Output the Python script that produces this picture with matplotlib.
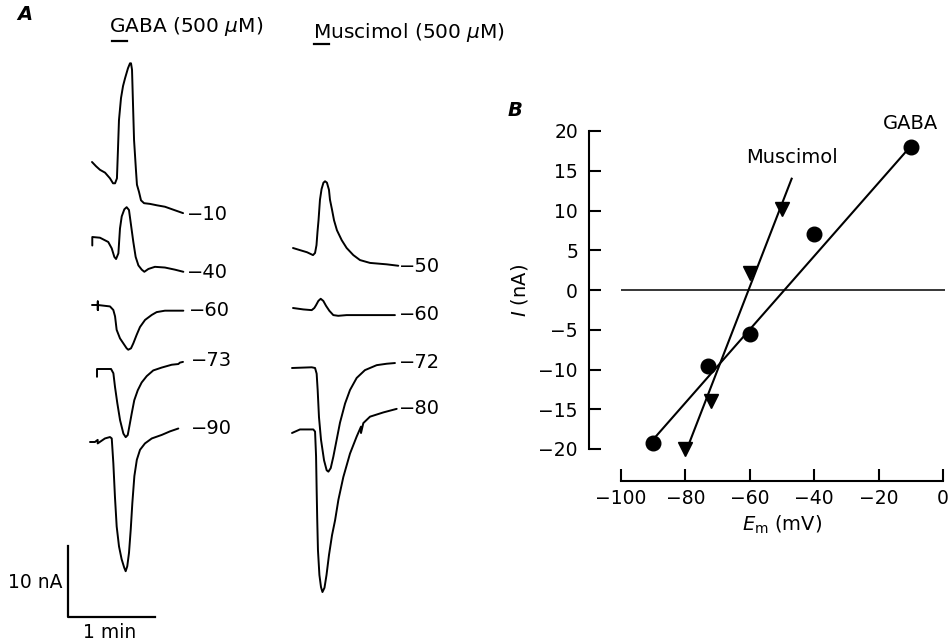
import matplotlib
matplotlib.use('Agg')
import matplotlib.pyplot as plt

plt.rcParams['font.family'] = ['DejaVu Sans']
plt.rcParams['mathtext.fontset'] = 'dejavusans'

# ---- panel A: membrane current sweeps
# t in s from the start of each sweep, I in nA relative to the first point
gaba_holding = ['\u221210', '\u221240', '\u221260', '\u221273', '\u221290']
gaba_t = [
    [0, 2.8, 5.5, 9.0, 12.4, 14.5, 15.9, 17.2, 17.9, 18.6, 20.0, 21.4, 22.8, 24.8, 26.2, 26.9,
     27.6, 28.3, 29.0, 30.3, 31.0, 32.4, 33.8, 35.9, 40.0, 44.8, 50.3, 57.2, 62.8],
    [0.2, 0.2, 5.5, 11.2, 13.6, 15.4, 16.6, 18.2, 19.3, 20.5, 22.3, 23.9, 25.5, 26.9, 28.5,
     30.1, 32.0, 34.3, 36.1, 38.9, 43.4, 50.3, 57.2, 63.0],
    [0, 4.0, 4.0, 4.0, 4.0, 12.4, 14.7, 15.9, 17.0, 19.3, 21.6, 23.9, 25.0, 26.9, 28.5, 30.8,
     33.1, 36.6, 41.2, 44.6, 50.3, 63.0],
    [0, 0, 9.7, 11.3, 12.4, 14.0, 15.9, 18.2, 19.8, 21.2, 22.3, 24.0, 25.7, 28.1, 30.8, 34.3,
     38.8, 44.6, 51.5, 56.1, 57.2, 59.3],
    [0, 3.4, 5.3, 5.3, 10.3, 13.8, 15.0, 16.1, 17.2, 18.4, 20.0, 21.8, 23.6, 24.6, 25.7, 26.9,
     28.1, 29.2, 30.6, 32.3, 34.5, 37.9, 42.6, 49.5, 55.2, 60.9],
]
gaba_i = [
    [0, -0.6, -1.1, -1.5, -2.3, -3.0, -3.0, -2.3, 1.7, 5.9, 9.0, 10.7, 11.8, 13.2, 13.9, 13.9,
     13.0, 8.0, 3.1, -1.1, -3.2, -4.2, -5.4, -5.8, -5.9, -6.1, -6.3, -6.8, -7.2],
    [-1.2, 0, -0.1, -0.7, -1.6, -2.8, -3.1, -2.3, 1.2, 2.9, 3.9, 4.2, 3.8, 1.7, -0.7,
     -2.8, -4.0, -4.6, -4.9, -4.5, -4.2, -4.3, -4.6, -4.9],
    [0, 0, 0.5, -0.7, 0, -0.2, -0.7, -1.6, -3.5, -4.7, -5.4, -6.1, -6.3, -6.1, -5.4, -4.2,
     -3.1, -2.1, -1.4, -1.0, -0.8, -0.8],
    [-1.1, 0, 0, -0.6, -2.5, -4.8, -7.2, -9.1, -9.6, -9.3, -8.1, -6.2, -4.4, -3.0, -1.9, -1.0,
     -0.2, 0.2, 0.6, 0.7, 0.9, 1.0],
    [0, 0, 0.3, -0.2, 0.5, 0.7, 0.5, -3.0, -7.7, -11.9, -14.7, -16.5, -17.7, -18.2, -17.5, -15.6,
     -12.3, -8.6, -4.8, -2.5, -1.1, -0.2, 0.5, 1.0, 1.5, 1.9],
]

musc_holding = ['\u221250', '\u221260', '\u221272', '\u221280']
musc_t = [
    [0, 4.8, 9.7, 13.8, 15.2, 16.2, 16.9, 17.6, 18.6, 19.7, 21.0, 22.1, 23.4, 24.8, 25.5, 26.9,
     28.3, 30.3, 33.6, 37.0, 41.6, 46.2, 53.1, 64.6, 72.6],
    [0, 7.1, 12.9, 14.7, 15.9, 17.5, 19.1, 20.9, 22.8, 25.1, 27.8, 31.2, 37.0, 50.8, 70.3],
    [0, 13.6, 15.9, 17.0, 17.7, 18.6, 20.0, 22.1, 23.9, 25.1, 26.7, 28.5, 30.8, 33.1, 36.6, 40.0,
     44.6, 50.3, 58.4, 65.3, 71.0],
    [0, 5.5, 14.7, 15.9, 16.6, 17.0, 17.4, 17.9, 18.9, 20.0, 21.0, 22.4, 23.8, 25.5, 27.6, 29.7,
     32.0, 35.4, 40.0, 44.6, 47.6, 47.6, 49.2, 53.8, 63.0, 72.2],
]
musc_i = [
    [0, -0.3, -0.6, -1.0, -0.7, 0.4, 2.3, 3.9, 6.8, 8.3, 9.2, 9.4, 9.2, 8.2, 6.8, 5.4,
     3.9, 2.5, 1.1, 0, -1.0, -1.7, -2.1, -2.3, -2.5],
    [0, -0.2, -0.3, 0, 0.4, 1.0, 1.3, 1.0, 0.3, -0.4, -1.0, -1.1, -1.0, -1.0, -1.0],
    [0, 0.1, 0, -0.8, -3.1, -6.9, -10.1, -13.0, -14.4, -14.6, -14.1, -12.5, -10.1, -7.7, -5.0, -3.1,
     -1.4, -0.3, 0.4, 0.6, 0.7],
    [0, 0.5, 0.5, 0.2, -3.3, -8.0, -12.2, -16.5, -20.0, -21.7, -22.4, -21.8, -20.0, -17.2, -14.4, -12.3,
     -9.4, -6.2, -2.9, -0.5, 0.9, 0, 1.4, 2.3, 2.9, 3.4],
]

application_s = 10      # drug application bar
scale_na = 10
scale_s = 60

# ---- panel B: I-V relation
gaba_em = [-90, -73, -60, -40, -10]
gaba_cur = [-19.2, -9.6, -5.5, 7.0, 18.0]
gaba_fit_em = [-90, -10]
gaba_fit_cur = [-18.8, 18.1]

musc_em = [-80, -72, -60, -50]
musc_cur = [-20.0, -13.9, 2.1, 10.2]
musc_fit_em = [-80, -47]
musc_fit_cur = [-20.5, 14.0]

xticks_b = [-100, -80, -60, -40, -20, 0]
yticks_b = [-20, -15, -10, -5, 0, 5, 10, 15, 20]

# layout (figure pixels) for the sweeps
PX_S = 87 / 60.0
PX_NA = 71 / 10.0
gaba_origin = [(92, 162), (92, 237), (92, 305), (97, 369), (90, 442)]
gaba_label = [(187, 214), (187, 272), (189, 311), (191, 361), (191, 428)]
musc_origin = [(293, 248), (293, 308), (292, 368), (292, 433)]
musc_label = [(399, 266), (399, 315), (399, 363), (399, 409)]


def at(x, y):
    return x / PX_S, -y / PX_NA


fig = plt.figure(figsize=(9.51, 6.44), dpi=100, facecolor='w')

axA = fig.add_axes([0, 0, 1, 1])
axA.set_xlim(0, 951 / PX_S)
axA.set_ylim(-644 / PX_NA, 0)
axA.axis('off')

for ts, cs, org, lab, name in zip(gaba_t + musc_t, gaba_i + musc_i,
                                  gaba_origin + musc_origin,
                                  gaba_label + musc_label,
                                  gaba_holding + musc_holding):
    x0, y0 = at(*org)
    axA.plot([x0 + t for t in ts], [y0 + c for c in cs], color='k', lw=1.4,
             solid_joinstyle='round', solid_capstyle='round')
    lx, ly = at(*lab)
    axA.text(lx, ly, name, fontsize=14, ha='left', va='center')

# titles with application bars
tx, ty = at(109, 27)
axA.text(tx, ty, 'GABA (500 $\\mu$M)', fontsize=14.5, ha='left', va='center')
bx, by = at(112, 41)
axA.plot([bx, bx + application_s], [by, by], color='k', lw=1.6)
tx, ty = at(313, 32)
axA.text(tx, ty, 'Muscimol (500 $\\mu$M)', fontsize=14.5, ha='left', va='center')
bx, by = at(314, 44)
axA.plot([bx, bx + application_s], [by, by], color='k', lw=1.6)

# scale bar
sx, sy = at(68, 617)
axA.plot([sx, sx, sx + scale_s], [sy + scale_na, sy, sy], color='k', lw=1.6)
lx, ly = at(62, 582)
axA.text(lx, ly, '%d nA' % scale_na, fontsize=13.5, ha='right', va='center')
lx, ly = at(110, 632)
axA.text(lx, ly, '1 min', fontsize=13.5, ha='center', va='center')

lx, ly = at(25, 15)
axA.text(lx, ly, 'A', fontsize=14, fontweight='bold', style='italic',
         ha='center', va='center')
lx, ly = at(515, 110)
axA.text(lx, ly, 'B', fontsize=14, fontweight='bold', style='italic',
         ha='center', va='center')

# ---- panel B
axB = fig.add_axes([621 / 951, 1 - 449 / 644, 322 / 951, 318 / 644])
axB.set_xlim(-100, 0)
axB.set_ylim(-20, 20)
axB.patch.set_alpha(0)
for side in ['top', 'right']:
    axB.spines[side].set_visible(False)
axB.spines['left'].set_position(('outward', 23))
axB.spines['bottom'].set_position(('outward', 23))
axB.spines['left'].set_bounds(-20, 20)
axB.spines['bottom'].set_bounds(-100, 0)
for side in ['left', 'bottom']:
    axB.spines[side].set_linewidth(1.5)
axB.set_xticks(xticks_b)
axB.set_yticks(yticks_b)
axB.tick_params(direction='in', length=8.5, width=1.5, labelsize=13.5)
axB.tick_params(axis='y', pad=8)
axB.tick_params(axis='x', pad=6)

axB.hlines(0, -100, 0.5, color='k', lw=1.1, clip_on=False)
axB.plot(gaba_fit_em, gaba_fit_cur, color='k', lw=1.5, clip_on=False)
axB.plot(musc_fit_em, musc_fit_cur, color='k', lw=1.5, clip_on=False)
axB.plot(gaba_em, gaba_cur, 'o', color='k', ms=10.5, clip_on=False)
axB.plot(musc_em, musc_cur, 'v', color='k', ms=10, clip_on=False)

axB.text(-10.2, 20.9, 'GABA', fontsize=14, ha='center', va='center')
axB.text(-47, 16.7, 'Muscimol', fontsize=14, ha='center', va='center')

axB.set_xlabel('$E_{\\rm m}$ (mV)', fontsize=14, labelpad=4)
axB.set_ylabel('$I$ (nA)', fontsize=14, labelpad=6)

fig.savefig('out.png', dpi=100, facecolor='w')
